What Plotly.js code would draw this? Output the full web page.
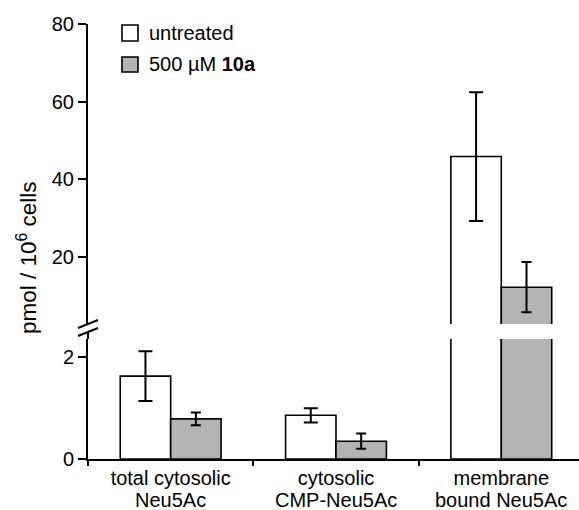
<!DOCTYPE html>
<html>
<head>
<meta charset="utf-8">
<script src="https://cdn.plot.ly/plotly-3.0.1.min.js"></script>
<style>html,body{margin:0;padding:0;background:#fff;}</style>
</head>
<body>
<div id="chart" style="width:579px;height:510px;"></div>
<script>
// ---- data ----
const categories = ["total cytosolic Neu5Ac", "cytosolic CMP-Neu5Ac", "membrane bound Neu5Ac"];
const labelLine1 = ["total cytosolic", "cytosolic", "membrane"];
const labelLine2 = ["Neu5Ac", "CMP-Neu5Ac", "bound Neu5Ac"];
const seriesNames = ["untreated", "500 µM <b>10a</b>"];
const untreated = [1.63, 0.86, 45.8];
const untreatedErr = [0.49, 0.14, 16.6];
const treated = [0.79, 0.35, 12.1];
const treatedErr = [0.125, 0.15, 6.5];
const lowerTicks = [0, 2];
const upperTicks = [20, 40, 60, 80];

// ---- geometry helpers (pixel -> paper) ----
const W = 579, H = 510, ML = 88, MR = 0, MT = 24, MB = 51;
const PW = W - ML - MR, PH = H - MT - MB;
const px = v => (v - ML) / PW;
const py = v => (H - MB - v) / PH;

const font = {family: "Liberation Sans, Arial, sans-serif", size: 20, color: "#000"};
const titleFont = {family: "Liberation Sans, Arial, sans-serif", size: 22.5, color: "#000"};
const grey = "#b4b4b4";

function barTrace(vals, errs, name, color, yaxis, capw) {
  return {
    type: "bar", x: categories, y: vals, name: name, yaxis: yaxis, xaxis: "x",
    showlegend: false, cliponaxis: true,
    marker: {color: color, line: {color: "#000", width: 1.6}},
    error_y: {type: "data", array: errs, visible: true, color: "#000", thickness: 2, width: capw}
  };
}

const traces = [
  barTrace(untreated, untreatedErr, seriesNames[0], "#fff", "y", 7),
  barTrace(treated, treatedErr, seriesNames[1], grey, "y", 5),
  barTrace(untreated, untreatedErr, seriesNames[0], "#fff", "y2", 7),
  barTrace(treated, treatedErr, seriesNames[1], grey, "y2", 5)
];

const axisCommon = {
  showline: true, linewidth: 2, linecolor: "#000", showgrid: false, zeroline: false,
  ticks: "outside", ticklen: 8, tickwidth: 2, tickcolor: "#000", tickfont: font,
  fixedrange: true
};

const annotations = [];
// second line of category labels
categories.forEach((c, i) => {
  annotations.push({x: c, xref: "x", y: py(500), yref: "paper", text: labelLine2[i],
    showarrow: false, font: font, xanchor: "center", yanchor: "middle"});
});
// y title
annotations.push({x: px(27), xref: "paper", y: py(258), yref: "paper",
  text: "pmol / 10<sup>6</sup> cells", textangle: -90, showarrow: false, font: titleFont,
  xanchor: "center", yanchor: "middle"});
// legend texts
annotations.push({x: px(147), xref: "paper", y: py(33), yref: "paper", text: seriesNames[0],
  showarrow: false, font: font, xanchor: "left", yanchor: "middle"});
annotations.push({x: px(147), xref: "paper", y: py(64), yref: "paper", text: seriesNames[1],
  showarrow: false, font: font, xanchor: "left", yanchor: "middle"});

const shapes = [
  // legend swatches
  {type: "rect", xref: "paper", yref: "paper", x0: px(122), x1: px(138), y0: py(25), y1: py(41),
   fillcolor: "#fff", line: {color: "#000", width: 1.6}},
  {type: "rect", xref: "paper", yref: "paper", x0: px(122), x1: px(138), y0: py(57), y1: py(72),
   fillcolor: grey, line: {color: "#000", width: 1.6}},
  // axis line extension below break
  {type: "line", xref: "paper", yref: "paper", x0: 0, x1: 0, y0: py(331), y1: py(339),
   line: {color: "#000", width: 2}},
  // break marks
  {type: "line", xref: "paper", yref: "paper", x0: px(78), x1: px(98), y0: py(328), y1: py(320),
   line: {color: "#000", width: 2}},
  {type: "line", xref: "paper", yref: "paper", x0: px(78), x1: px(98), y0: py(336), y1: py(328),
   line: {color: "#000", width: 2}}
];

const layout = {
  width: W, height: H,
  margin: {l: ML, r: MR, t: MT, b: MB, pad: 0},
  paper_bgcolor: "#fff", plot_bgcolor: "rgba(0,0,0,0)",
  font: font,
  showlegend: false,
  barmode: "group", bargap: 0.39, bargroupgap: 0,
  xaxis: Object.assign({}, axisCommon, {
    type: "category", range: [-0.5, 2.47], tickson: "boundaries", ticklen: 5,
    tickvals: categories, ticktext: labelLine1, anchor: "y"
  }),
  yaxis: Object.assign({}, axisCommon, {
    domain: [0, py(339)], range: [0, 2.36], tickvals: lowerTicks, anchor: "x"
  }),
  yaxis2: Object.assign({}, axisCommon, {
    domain: [py(324), 1], range: [2.6, 80], tickvals: upperTicks, anchor: "x"
  }),
  annotations: annotations,
  shapes: shapes
};

Plotly.newPlot("chart", traces, layout, {staticPlot: true, displayModeBar: false});
</script>
</body>
</html>
